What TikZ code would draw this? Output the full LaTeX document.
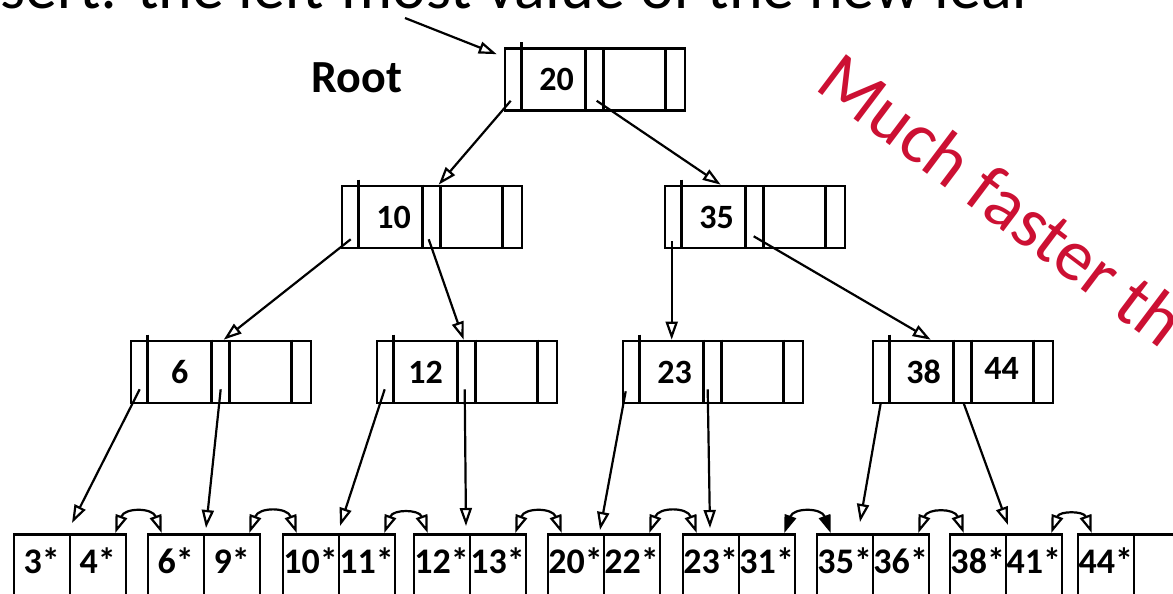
\documentclass[tikz,border=0pt]{standalone}
\usepackage{fontspec}
\setmainfont{Carlito}
\usetikzlibrary{positioning, arrows.meta, calc}
\definecolor{muchred}{RGB}{204,16,51}

\begin{document}
\begin{tikzpicture}[
    x=0.5pt, y=-0.5pt,
    inode/.style={rectangle, draw, line width=1.3pt, minimum width=90pt,
                  minimum height=31pt, inner sep=0pt},
    leaf/.style={rectangle, draw, line width=1.3pt, minimum width=56pt,
                 minimum height=60pt, inner sep=0pt, anchor=north},
    key/.style={font=\fontsize{17}{17}\selectfont\bfseries, inner sep=0pt},
    lkey/.style={font=\fontsize{18}{18}\selectfont\bfseries, inner sep=0pt},
    ptr/.style={-{Triangle[open, length=9pt, width=6pt]}, line width=1.1pt},
    sib/.style={{Triangle[open, length=9pt, width=6pt]}-{Triangle[open, length=9pt, width=6pt]},
                line width=1.1pt, bend left=70, looseness=1.5},
    sibfill/.style={{Triangle[length=9pt, width=6pt]}-{Triangle[length=9pt, width=6pt]},
                line width=1.1pt, bend left=70, looseness=1.5},
    note/.style={font=\fontsize{32}{32}\selectfont}
]
\useasboundingbox (0,0) rectangle (1173,594);
\clip (0,0) rectangle (1173,594);

% heading, cut at the top of the slide
\node[note, anchor=base east] (insert) at (1038,9)
    {Insert: the left-most value of the new leaf};

% internal nodes
\node[inode] (root) at (595,79.5) {};
\node[inode] (n10)  at (432,217) {};
\node[inode] (n35)  at (755,217) {};
\node[inode] (n6)   at (221,372) {};
\node[inode] (n12)  at (467,372) {};
\node[inode] (n23)  at (713,372) {};
\node[inode] (n38)  at (963,372) {};

\foreach \n in {root,n10,n35,n6,n12,n23,n38}{
  \draw[line width=1.3pt] ([shift={(18,-5)}]\n.north west) -- ([shift={(18,0)}]\n.south west);
  \foreach \o in {82,100,162}
    \draw[line width=1.3pt] ([shift={(\o,0)}]\n.north west) -- ([shift={(\o,0)}]\n.south west);
}

\node[key] (root-k) at ([shift={(53,0)}]root.west) {20};
\node[key] (n10-k)  at ([shift={(53,0)}]n10.west)  {10};
\node[key] (n35-k)  at ([shift={(53,0)}]n35.west)  {35};
\node[key] (n6-k)   at ([shift={(50,0)}]n6.west)   {6};
\node[key] (n12-k)  at ([shift={(50,0)}]n12.west)  {12};
\node[key] (n23-k)  at ([shift={(53,0)}]n23.west)  {23};
\node[key] (n38-k)  at ([shift={(52,0)}]n38.west)  {38};
\node[key] (n38-k2) at ([shift={(130,-4)}]n38.west) {44};

% leaves
\foreach \n/\x/\a/\b in {l1/70/3*/4*, l2/204/6*/9*, l3/339/10*/11*,
                         l4/470/12*/13*, l5/604/20*/22*, l6/739/23*/31*,
                         l7/873/35*/36*, l8/1006/38*/41*, l9/1134/44*/}{
  \node[leaf] (\n) at (\x,533) {};
  \draw[line width=1.3pt] (\n.north) -- (\n.south);
  \node[lkey] (\n-a) at ([shift={(29,28)}]\n.north west) {\a};
  \node[lkey] (\n-b) at ([shift={(85,28)}]\n.north west) {\b};
}

% labels
\node[font=\fontsize{23}{23}\selectfont\bfseries] (rootlbl) at (357,78) {Root};
\node[font=\fontsize{36.5}{36.5}\selectfont, text=muchred, rotate=-37,
      anchor=base west] (faster) at (808,84) {Much faster th};

% pointers
\coordinate (src) at (405,18);
\draw[ptr] (src) -- ([shift={(-7,7)}]root.north west);
\draw[ptr] ([shift={(7,-11)}]root.south west) -- ([shift={(98,0)}]n10.north west);
\draw[ptr] ([shift={(93,-11)}]root.south west) -- ([shift={(57,0)}]n35.north west);
\draw[ptr] ([shift={(10,-10)}]n10.south west) -- ([shift={(94,0)}]n6.north west);
\draw[ptr] ([shift={(88,-10)}]n10.south west) -- ([shift={(88,0)}]n12.north west);
\draw[ptr] ([shift={(8,-8)}]n35.south west) -- ([shift={(50,0)}]n23.north west);
\draw[ptr] ([shift={(90,-13)}]n35.south west) -- ([shift={(59,0)}]n38.north west);
\draw[ptr] ([shift={(10,-15)}]n6.south west) -- ([shift={(2,-10)}]l1.north);
\draw[ptr] ([shift={(91,-15)}]n6.south west) -- ([shift={(2,-5)}]l2.north);
\draw[ptr] ([shift={(9,-15)}]n12.south west) -- ([shift={(1,-7)}]l3.north);
\draw[ptr] ([shift={(89,-15)}]n12.south west) -- ([shift={(-4,-7)}]l4.north);
\draw[ptr] ([shift={(4,-13)}]n23.south west) -- ([shift={(-4,-3)}]l5.north);
\draw[ptr] ([shift={(86,-15)}]n23.south west) -- ([shift={(-29,-5)}]l6.north);
\draw[ptr] ([shift={(9,-1)}]n38.south west) -- ([shift={(-13,-11)}]l7.north);
\draw[ptr] ([shift={(92,-1)}]n38.south west) -- ([shift={(2,-8)}]l8.north);

% sibling links
\foreach \a/\b in {l1/l2, l2/l3, l3/l4, l4/l5, l5/l6, l7/l8, l8/l9}
  \draw[sib] ([shift={(-12,0)}]\a.north east) to ([shift={(15,0)}]\b.north west);
\draw[sibfill] ([shift={(-12,0)}]l6.north east) to ([shift={(15,0)}]l7.north west);

\end{tikzpicture}
\end{document}
